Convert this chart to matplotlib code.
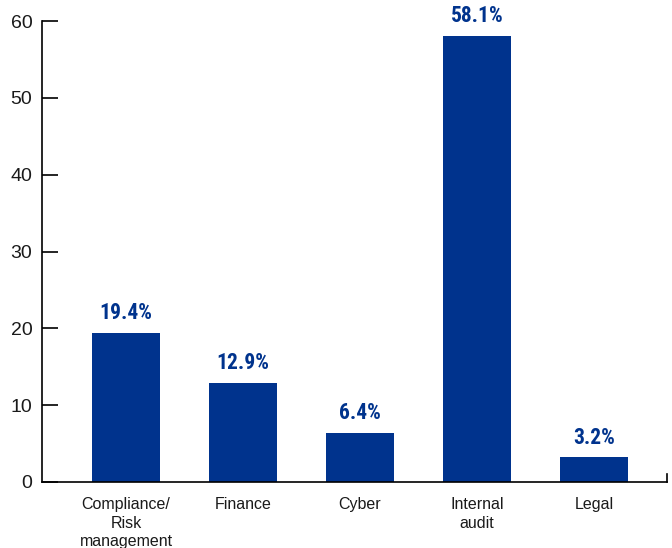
import matplotlib.pyplot as plt
from matplotlib import font_manager

categories = ['Compliance/\nRisk\nmanagement', 'Finance', 'Cyber', 'Internal\naudit', 'Legal']
values = [19.4, 12.9, 6.4, 58.1, 3.2]
labels = ['19.4%', '12.9%', '6.4%', '58.1%', '3.2%']
yticks = [0, 10, 20, 30, 40, 50, 60]

blue = '#00338D'

# pick a condensed face for the value labels if one is installed
names = {f.name for f in font_manager.fontManager.ttflist}
stretches = {(f.name, f.stretch) for f in font_manager.fontManager.ttflist}
label_font = dict(family='DejaVu Sans')
for cand in ['Roboto Condensed', 'Liberation Sans Narrow', 'Open Sans Condensed']:
    if cand in names:
        label_font = dict(family=cand)
        break
else:
    for n, s in stretches:
        if n == 'DejaVu Sans' and s not in ('normal', 500):
            label_font = dict(family='DejaVu Sans', fontstretch='condensed')
            break

fig = plt.figure(figsize=(6.72, 5.48), dpi=100)
ax = fig.add_axes([42/672, 66/548, 625/672, 461/548])

x = range(len(categories))
ax.bar(x, values, width=68/117, color=blue)
ax.set_xlim(-84/117, 4 + 73/117)
ax.set_ylim(0, 60)

for xi, v, lab in zip(x, values, labels):
    ax.annotate(lab, (xi, v), xytext=(0, 10), textcoords='offset points',
                ha='center', va='baseline', color=blue, fontsize=15.5,
                fontweight='bold', **label_font)

ax.set_yticks(yticks)
ax.set_yticklabels([str(t) for t in yticks], fontsize=14, family='Liberation Sans', color='#1a1a1a')
ax.tick_params(axis='y', direction='in', length=11.5, width=1.2, pad=7)
ax.set_xticks(list(x))
ax.set_xticklabels(categories, fontsize=11.5, family='Liberation Sans', color='#1a1a1a', linespacing=1.28)
ax.tick_params(axis='x', length=0, pad=11)

ax.spines['top'].set_visible(False)
ax.spines['right'].set_visible(False)
ax.spines['left'].set_linewidth(1.2)
ax.spines['bottom'].set_linewidth(1.2)
# small end mark at the right of the x axis
ax.plot([4 + 73/117] * 2, [0, 1.0], color='black', lw=1.2, clip_on=False)

fig.savefig('out.png', dpi=100)
